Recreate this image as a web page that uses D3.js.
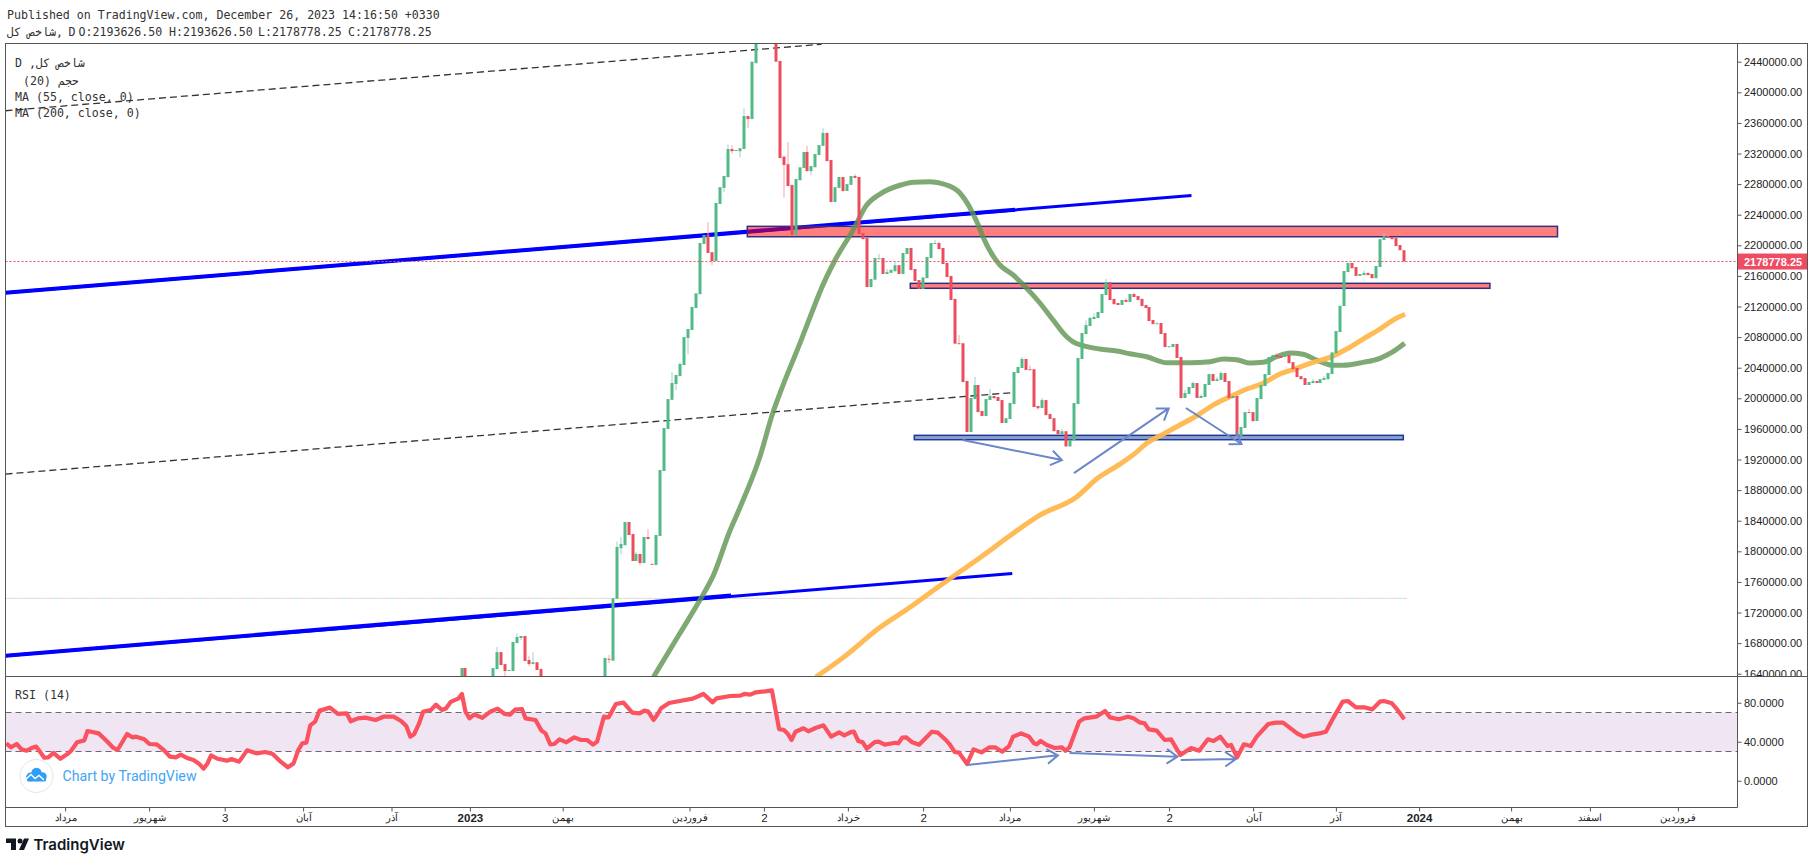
<!DOCTYPE html>
<html>
<head>
<meta charset="utf-8">
<script src="https://cdn.jsdelivr.net/npm/d3@7"></script>
<style>
  html, body { margin: 0; padding: 0; background: #fff; }
  svg { display: block; }
  .mono { font-family: "DejaVu Sans Mono", monospace; font-size: 11.6px; fill: #333; }
  .tick text { fill: #222; font-family: "Liberation Sans", Arial, sans-serif; font-size: 11px; }
  .tick line { stroke: #555; }
</style>
</head>
<body>
<div id="chart"></div>
<script>
// prices are in thousands, time is in chart units (t), daily bars sit at i * BAR_STEP
const BAR_STEP = 0.9942;

const opens = [1630,1647.4,null,null,null,null,null,null,1630,1646,1668.3,1652.6,1644.4,1643.5,1680,1686.7,1689.3,1658,1652.6,1655,1646,
  null,null,null,null,null,null,null,null,null,null,null,null,null,null,null,
  1630,1659.5,1657,1738,1804,1808,1838.3,1822.6,1787.3,1796.5,1784.7,1818.7,1783.7,1782,1820,1905,1960,1998,2018.7,2029,2043.5,2078.8,2089.3,2118,2136,2201.7,2213.5,2191,2179.5,2254,2275,2289,2325.9,2324,2323,2325.9,2369,2365,2438,
  null,null,null,null,
  2480,2441,2316,2306,2279,2213.5,2285,2301,2322,2297,2302,2318,2330,2347,2311.5,2256.6,2275,2289.3,2271,2279,2290.6,2289.3,2216,2209.5,2145.5,2155,2182.5,2183.4,2162.5,2164,2166,2174,2162.5,2188.6,2196.5,2169,2154.6,2142.9,2157,2183.4,2202.5,2203,2196.5,2177,2160,2130,2072,2072,2022.6,1955.9,1999,2017.4,1983.4,1976.8,1997.7,2003,2001.7,1997.7,1967.7,1973,1992.5,2033,2039.6,2051.4,2038,2038,1990,1987.3,1997.7,1979.5,1974,1958.5,1953.3,1957,1937,1945.5,1992.5,2051.4,2084,2094.5,2103.6,2105,2111.5,2135,2152,2130,2124.6,2122,2128.5,2126,2136.3,2133.7,2130,2122,2119.3,2102.3,2097.6,2098.4,2085.3,2067.4,2067,2071,2054,2000.4,2005.7,2013.5,2020,2000.4,2001.7,2017.4,2031.7,2022.6,2024,2033,2022.6,2000.4,2003,1950.7,1961.2,1982,1982,1970.3,1999,2016,2030.4,2052.7,2056.6,2055.3,2054,2056.6,2047.3,2039.6,2029,2026.5,2017.4,2020,2022.6,2020,2024,2025,2031.7,2059,2086.6,2120.6,2165,2177,2171.6,2160,2161,2164,2162.5,2157,2171.6,2206.9,2212,2210.8,2209.5,2200.4,2193.6];

const closes = [1647.4,1630,null,null,null,null,null,null,1647.4,1668.3,1651.4,1643.5,1644.9,1681.4,1688,1689.3,1656.6,1652.6,1655,1644.8,1630,
  null,null,null,null,null,null,null,null,null,null,null,null,null,null,null,
  1660.6,1658.8,1738.6,1805.6,1809.5,1838.3,1821.3,1787.3,1796.5,1784.7,1818.7,1816,1783,1821.3,1906.3,1961.2,1999,2020,2030.5,2044.8,2080,2090.6,2119.4,2137.2,2203,2213.5,2190,2179.5,2255.3,2276,2290.6,2325.9,2323,2324.6,2327,2369,2365,2440,2480,
  null,null,null,null,
  2440,2314,2305,2277.5,2213.5,2286.7,2302,2322,2297,2303.6,2319.3,2331,2347,2310,2256.6,2276,2289.3,2271,2280,2290.6,2288,2214.8,2208,2145.5,2156,2183.4,2183,2162.5,2165,2168,2174,2162.5,2190,2196.5,2167.7,2153.3,2142.9,2158,2184.7,2203,2203,2195,2175.6,2158.6,2128.5,2071.4,2071.5,2021.3,1955.9,2000.4,2017.4,1982,1976.8,1999,2003,2000,1996.5,1967.7,1974,1994,2034.4,2041,2051.4,2037,2037,1988.6,1987,1997.7,1978,1973,1957,1953.3,1957,1937,1946,1993.8,2052.7,2085.3,2095.8,2105,2106.3,2112.8,2136.3,2152,2128.5,2123,2122,2128.5,2126,2136.3,2132.4,2128.5,2120.6,2118,2101,2097,2098,2084,2067,2068,2071,2052.7,2000.4,2007,2014.8,2020,2000.4,2003,2018.7,2031.7,2022.6,2025,2033,2021.3,2000.4,2003,1950.7,1962.5,1982,1980.8,1970.3,2000.4,2017.4,2031.7,2054,2056.6,2054,2052.7,2057.9,2046,2038,2027.8,2025,2017.4,2021.3,2022.6,2020,2025,2026.5,2033,2060,2088,2121,2166.4,2177,2170,2160,2162.5,2164,2161,2157,2172.9,2208,2212,2209.5,2208,2199,2193.6,2178.8];

// [bar index, price] for the wicks that stick out of a body
const upperWicks = [[9,1674.9],[14,1693],[17,1663],[18,1668],[20,1647.4],[37,1664.5],[39,1813],[40,1818.6],[44,1799],[47,1829],[53,2034.4],[55,2047],[62,2230],[67,2332],[68,2331],[71,2379],[82,2335],[87,2330],[91,2353],[99,2293],[105,2189],[107,2169],[109,2178],[119,2207],[120,2205],[125,2082.7],[129,2028],[133,2012],[141,2054],[143,2043],[146,2000.4],[151,1960],[157,2102],[158,2107],[159,2111],[162,2156],[167,2131],[169,2138],[175,2100],[182,2011],[184,2022],[186,2005],[190,2028],[191,2035],[198,1986],[205,2059],[214,2025],[217,2029],[227,2167],[232,2216],[233,2214]];
const lowerWicks = [[11,1630],[15,1684],[17,1650],[37,1654],[40,1796],[45,1782],[54,2010.9],[57,2057.9],[63,2174],[66,2269.7],[68,2320],[70,2315],[72,2353],[81,2262],[88,2292],[96,2270],[145,1985],[199,1969]];

const ma55Times = [48,54.6,59.6,63,67,69.6,74.6,77.8,79.6,84.6,88.8,89.6,93.4,97.9,101.3,104.6,109.6,113.1,117.1,120.9,124.6,129.2,130.5,133,134.6,137.9,140.5,144.6,147.9,151.3,152.9,155.4,159.6,163.8,167.1,171.3,176.3,182.1,187.1,190.5,193.8,197.1,200.4,203.8,207.1,210.4,213.8,217.9,220.4,225.4,229.6,232.9,235.8];
const ma55Values = [1635.7,1692.8,1736.3,1769,1825.6,1857,1923.7,1980.4,2006.5,2071.9,2128.5,2139,2180.8,2220,2252.7,2267,2278.5,2282.5,2283,2279.5,2268.4,2226.5,2209.6,2185.1,2174.3,2161.2,2148.1,2124.6,2102.3,2080.5,2073.9,2068.8,2064.4,2061.8,2058.3,2054.4,2046.5,2046.5,2047.8,2051.4,2050.5,2046.1,2047,2054.4,2059.2,2057.5,2050,2043.1,2043.1,2047,2052.3,2060.9,2071.9];

const ma200Times = [88.6,95.9,104.4,112.6,118.8,124.6,130.9,136.3,144.6,153.6,159,164.6,168.4,171.3,175.4,179.6,183.8,187.9,192.1,196.3,200.4,204.6,208.8,212.9,217.1,221.3,225.4,229.6,232.9,235.9];
const ma200Values = [1635.7,1663,1699.7,1728.5,1752,1773.3,1796.5,1817.4,1847.4,1870.3,1895.4,1914,1928,1941.2,1953,1965.1,1977.2,1991.2,2002,2012.1,2019.6,2031.8,2039.2,2047,2053.6,2064.4,2077.5,2090.6,2102.3,2109.8];

const rsiTimes = [-113.8,-112.6,-111.2,-110,-108.7,-107.5,-106.3,-104.3,-103.3,-102,-100.3,-98.6,-97.6,-96.1,-94.3,-93.5,-90.7,-88.7,-87.2,-86,-83.6,-82.3,-81.3,-79.3,-78,-76.2,-74.4,-72.9,-71.4,-70.2,-68.4,-67,-65.7,-64.5,-63.5,-62.6,-61,-58.6,-57.5,-55.6,-53.6,-51.3,-49,-47.2,-45.2,-43.4,-42,-40.8,-39.8,-38.8,-37.8,-36.6,-35.5,-34.3,-32.9,-30.9,-28.7,-27.7,-25.9,-24,-21.5,-19.5,-17,-15.1,-13.8,-12.8,-11.8,-10.6,-9.6,-8.4,-7.6,-6.4,-4.9,-3.9,-2.7,-0.7,0.1,1,2,3.2,5.2,7.2,9,10.8,12.1,13.4,15.1,16,18.5,20,21,22.2,23.2,24.5,26.2,28.2,29.9,31.4,32.9,33.9,35.6,36.8,38.6,40.5,42.7,44.5,45.7,46.7,48,48.9,49.9,51.9,54.9,57.8,60.5,62.8,63.8,67.2,69.7,70.7,72.2,73.6,75.9,77.6,79.4,80.6,81.6,82.5,83.5,85.5,86.7,88.5,90.5,92.4,94.4,95.7,97.4,98.1,99.2,100.3,101.3,103.3,104.3,105.8,108.5,109.2,110.2,111.2,112.7,114.4,117.6,119.1,121.1,122.1,123.3,124.4,126.4,128,130,132,133.4,135.2,136.9,137.9,139.9,141.9,143.1,143.8,144.8,146.3,148.3,150.1,151,152,154.4,155.7,158.7,160.9,162.1,164.3,166.6,168,169.5,170.8,171.8,173.8,175.8,177.4,179.7,182.4,184.4,186.6,188,189.7,191.5,192.4,193.9,195.6,197.3,198.8,201.7,203.7,205.4,207.6,208.9,210.5,212.5,214.5,216.1,217.9,220.3,221.6,223.6,225.7,227.7,229.6,230.6,232.6,234,235.7];
const rsiValues = [38.4,34.3,37.7,32.2,30.8,33.6,35,23.7,24,28.5,22.6,27.1,30.8,39.4,41.4,51,48.6,40.8,34.3,31.5,48,44.5,45.2,42.5,37.7,37.4,31.5,24.7,24,26.8,23,21.3,17.8,12.4,17.8,26.1,22.6,20.6,22.3,19.6,31.2,28.1,29.5,27.4,19.6,13.8,17.8,31.5,38.4,39,56.8,60.6,71.9,73.2,75,68.5,69.1,61,64,64.7,62.3,65.7,65.7,61.3,56.2,45.2,48,58.9,70.8,71.9,72.6,78,72.6,74,80.8,84.5,89,70.8,64,68.1,64.4,70.8,74,68.5,67.8,72.9,73.6,64,62.3,51.4,48.6,37.4,37.7,42.5,39.4,44.5,41.8,41.8,37,40.1,65.7,65,78.7,80.1,69.8,69.1,71.9,70.9,62.3,67.4,74.3,79.7,82.1,84.2,89,80.4,84.5,86.9,87.3,89,88.3,90.7,91.7,92.7,53,52,48,41.8,50.3,53.8,50.7,54.1,56.8,45.2,49.6,46.6,50,50.3,40.8,39.4,32.9,39.7,40.1,37,39,38.4,44.2,44.5,39.4,37,50.3,49.3,41.8,37,29.5,28.8,17.2,32.2,29.1,34.3,34.3,29.8,35.6,45.2,48.6,45.2,38.4,37.4,40.8,36.7,33.6,34.3,30.8,34.3,60.6,64,65.7,71.5,65,63,65.7,64,59.9,58.9,52.7,51.4,41.8,42.5,26.4,33.6,30.8,42.5,40.8,45.2,35.6,36.7,24,37.4,35.6,45.2,58.2,59.6,59.6,52.7,48.6,45.2,47.3,48.6,50.3,64,81.1,81.8,75.3,75.3,73.2,81.1,81.8,79.4,72.6,63];

const priceTicks = d3.range(1640, 2441, 40);
const rsiTicks = [0, 40, 80];
const timeTicks = [-99.1,-78.1,-59.2,-39.6,-17.5,2.1,25.3,57,75.6,96.6,115.4,137.1,158.1,176.9,197.9,218.6,239.4,262.4,282.1,304.1];
const timeLabels = ['مرداد','شهریور','3','آبان','آذر','2023','بهمن','فروردین','2','خرداد','2','مرداد','شهریور','2','آبان','آذر','2024','بهمن','اسفند','فروردین'];
const yearLabels = ['2023', '2024'];

const lastPrice = 2178.77825;
const rsiBand = [30, 70];
const thinLevel = 1738.5;
const thinLevelEnd = 236.4;

// drawings on the chart, [t1, price1, t2, price2]
const blueLines = [[-114,2138,182.5,2265.2],[-114,1663.5,137.7,1771]];
const blueOverlays = [[-114,2138,138.4,2246.5],[-114,1663.5,67.4,1742.2]];
const dashedLines = [[-114,2375.9,90,2462.8],[-114,1901,137.4,2007.3]];
const redZones = [[71.45,2224.8,274,2211.2],[112.2,2150.3,257.1,2143.8]];
const blueZones = [[113.2,1951.6,235.45,1945.9]];
const priceArrows = [[125.3,1945.5,150.1,1919.3],[153.1,1902.3,176.8,1986.8],[181.1,1987.3,195,1940.3]];
const rsiArrows = [[126.4,16.2,149.1,26.1],[152,28.5,179,24.7],[179.8,21.3,193.6,22.3]];

const WIDTH = 1814;
const HEIGHT = 863;
const LEFT = 5.5;
const RIGHT = 1807.5;
const AXIS_X = 1737.5;
const TOP = 43.5;
const SPLIT = 676.5;
const RSI_BOTTOM = 807.5;
const BOTTOM = 826.5;

const UP = '#53b987';
const DOWN = '#eb4d5c';
const UP_WICK = '#a3cfcf';
const DOWN_WICK = '#f7a1ad';
const FRAME = '#555';

const x = d3.scaleLinear().domain([-115, 320]).range([1.5, 1741.5]);
const y = d3.scaleLinear().domain([1636.36, 2463.8]).range([SPLIT, TOP]);
const yRsi = d3.scaleLinear().domain([-27.4, 106.9]).range([RSI_BOTTOM, SPLIT]);

const svg = d3.select('#chart').append('svg').attr('width', WIDTH).attr('height', HEIGHT);
svg.append('rect').attr('width', WIDTH).attr('height', HEIGHT).attr('fill', '#fff');

const defs = svg.append('defs');
const addClip = (id, x0, y0, w, h) => defs.append('clipPath').attr('id', id)
  .append('rect').attr('x', x0).attr('y', y0).attr('width', w).attr('height', h);
addClip('mainClip', LEFT, TOP, AXIS_X - LEFT, SPLIT - TOP);
addClip('rsiClip', LEFT, SPLIT, AXIS_X - LEFT, RSI_BOTTOM - SPLIT);
addClip('priceAxisClip', 0, TOP, RIGHT - AXIS_X, SPLIT - TOP);

const main = svg.append('g').attr('clip-path', 'url(#mainClip)');
const rsi = svg.append('g').attr('clip-path', 'url(#rsiClip)');

const drawSegments = (group, rows, yScale, width, color, dash) => group.selectAll(null)
  .data(rows)
  .enter()
  .append('line')
  .attr('x1', d => x(d[0]))
  .attr('y1', d => yScale(d[1]))
  .attr('x2', d => x(d[2]))
  .attr('y2', d => yScale(d[3]))
  .attr('stroke', color)
  .attr('stroke-width', width)
  .attr('stroke-dasharray', dash);

const drawZones = (rows, fill, stroke) => main.selectAll(null)
  .data(rows)
  .enter()
  .append('rect')
  .attr('x', d => x(d[0]))
  .attr('y', d => y(d[1]))
  .attr('width', d => x(d[2]) - x(d[0]))
  .attr('height', d => y(d[3]) - y(d[1]))
  .attr('fill', fill)
  .attr('stroke', stroke)
  .attr('stroke-width', 1.5);

const drawArrows = (group, rows, yScale) => group.selectAll(null)
  .data(rows)
  .enter()
  .append('path')
  .attr('fill', 'none')
  .attr('stroke', '#6b87ca')
  .attr('stroke-width', 2)
  .attr('d', d => {
    const [x1, y1, x2, y2] = [x(d[0]), yScale(d[1]), x(d[2]), yScale(d[3])];
    const angle = Math.atan2(y2 - y1, x2 - x1);
    const head = a => `${x2 - 13 * Math.cos(angle + a)},${y2 - 13 * Math.sin(angle + a)}`;
    return `M${x1},${y1}L${x2},${y2}M${head(0.6)}L${x2},${y2}L${head(-0.6)}`;
  });

const drawLine = (group, times, values, yScale, color, width, opacity, curve) => group.append('path')
  .datum(times.map((t, i) => [t, values[i]]))
  .attr('fill', 'none')
  .attr('stroke', color)
  .attr('stroke-width', width)
  .attr('stroke-opacity', opacity)
  .attr('stroke-linejoin', 'round')
  .attr('d', d3.line().curve(curve).x(d => x(d[0])).y(d => yScale(d[1])));

// main pane, bottom to top
[['#c6ead6', 0], ['#f9c9d0', 6]].forEach(([color, offset]) => {
  main.append('line')
    .attr('x1', LEFT).attr('x2', x(thinLevelEnd))
    .attr('y1', y(thinLevel)).attr('y2', y(thinLevel))
    .attr('stroke', color)
    .attr('stroke-dasharray', '6 6')
    .attr('stroke-dashoffset', offset);
});
drawSegments(main, dashedLines, y, 1.3, '#333', '7 4');
drawSegments(main, blueLines, y, 3, '#0000ff');
drawSegments(main, blueOverlays, y, 4, '#0000ff');
drawZones(redZones, 'rgba(255,0,0,0.5)', '#33307f');
drawZones(blueZones, 'rgba(33,66,160,0.5)', '#1b3a96');
drawLine(main, ma55Times, ma55Values, y, '#5f9350', 5, 0.8, d3.curveMonotoneX);
drawLine(main, ma200Times, ma200Values, y, '#ffb74d', 5, 0.95, d3.curveMonotoneX);

const bars = opens
  .map((o, i) => ({ i, o, c: closes[i], t: i * BAR_STEP }))
  .filter(b => b.o !== null);

const wicks = [
  ...upperWicks.map(([i, p]) => ({ i, from: Math.max(opens[i], closes[i]), to: p })),
  ...lowerWicks.map(([i, p]) => ({ i, from: Math.min(opens[i], closes[i]), to: p })),
];

main.selectAll('.wick')
  .data(wicks)
  .enter()
  .append('rect')
  .attr('class', 'wick')
  .attr('x', d => Math.round(x(d.i * BAR_STEP)) - 0.5)
  .attr('y', d => Math.min(y(d.from), y(d.to)))
  .attr('width', 1)
  .attr('height', d => Math.abs(y(d.from) - y(d.to)))
  .attr('fill', d => closes[d.i] >= opens[d.i] ? UP_WICK : DOWN_WICK);

main.selectAll('.bar')
  .data(bars)
  .enter()
  .append('rect')
  .attr('class', 'bar')
  .attr('x', d => Math.round(x(d.t)) - 1.5)
  .attr('y', d => Math.min(y(d.o), y(d.c)))
  .attr('width', 3)
  .attr('height', d => Math.max(1, Math.abs(y(d.o) - y(d.c))))
  .attr('fill', d => d.c >= d.o ? UP : DOWN);

main.append('line')
  .attr('x1', LEFT).attr('x2', AXIS_X)
  .attr('y1', y(lastPrice)).attr('y2', y(lastPrice))
  .attr('stroke', DOWN)
  .attr('stroke-dasharray', '2 2');

drawArrows(main, priceArrows, y);

// rsi pane
rsi.append('rect')
  .attr('x', LEFT).attr('width', AXIS_X - LEFT)
  .attr('y', yRsi(rsiBand[1]))
  .attr('height', yRsi(rsiBand[0]) - yRsi(rsiBand[1]))
  .attr('fill', '#f0e5f2');
rsiBand.forEach(v => {
  rsi.append('line')
    .attr('x1', LEFT).attr('x2', AXIS_X)
    .attr('y1', yRsi(v)).attr('y2', yRsi(v))
    .attr('stroke', '#6d6875')
    .attr('stroke-width', 1.2)
    .attr('stroke-dasharray', '6 4');
});
drawLine(rsi, rsiTimes, rsiValues, yRsi, '#fb525f', 4.2, 1, d3.curveLinear);
drawArrows(rsi, rsiArrows, yRsi);

// axes
const priceAxis = svg.append('g')
  .attr('transform', `translate(${AXIS_X},0)`)
  .attr('clip-path', 'url(#priceAxisClip)')
  .call(d3.axisRight(y).tickValues(priceTicks).tickSize(4).tickPadding(2.5)
    .tickFormat(d => (d * 1000).toFixed(2)));
priceAxis.select('.domain').remove();

const rsiAxis = svg.append('g')
  .attr('transform', `translate(${AXIS_X},0)`)
  .call(d3.axisRight(yRsi).tickValues(rsiTicks).tickSize(4).tickPadding(2.5)
    .tickFormat(d => d.toFixed(4)));
rsiAxis.select('.domain').remove();

const timeAxis = svg.append('g')
  .attr('transform', `translate(0,${RSI_BOTTOM})`)
  .call(d3.axisBottom(x).tickValues(timeTicks).tickSize(4).tickPadding(2)
    .tickFormat((d, i) => timeLabels[i]));
timeAxis.select('.domain').remove();
timeAxis.selectAll('text')
  .style('font-weight', d => yearLabels.includes(timeLabels[timeTicks.indexOf(d)]) ? 'bold' : 'normal')
  .style('font-size', d => /\d/.test(timeLabels[timeTicks.indexOf(d)]) ? '11.5px' : '10px');

// last price label
svg.append('rect')
  .attr('x', AXIS_X).attr('y', y(lastPrice) - 8)
  .attr('width', RIGHT - AXIS_X).attr('height', 16)
  .attr('fill', '#ee4c62');
svg.append('text')
  .attr('x', 1744).attr('y', y(lastPrice) + 4)
  .attr('fill', '#fff')
  .attr('font-family', '"Liberation Sans", Arial, sans-serif')
  .attr('font-size', 11)
  .attr('font-weight', 'bold')
  .text((lastPrice * 1000).toFixed(2));

// frame
svg.append('rect')
  .attr('x', LEFT).attr('y', TOP)
  .attr('width', RIGHT - LEFT).attr('height', BOTTOM - TOP)
  .attr('fill', 'none').attr('stroke', FRAME);
[[LEFT, SPLIT, RIGHT, SPLIT], [LEFT, RSI_BOTTOM, AXIS_X, RSI_BOTTOM], [AXIS_X, TOP, AXIS_X, RSI_BOTTOM]].forEach(s => {
  svg.append('line')
    .attr('x1', s[0]).attr('y1', s[1]).attr('x2', s[2]).attr('y2', s[3])
    .attr('stroke', FRAME);
});

// header and legend
const monoText = (px, py, str) => svg.append('text')
  .attr('class', 'mono').attr('x', px).attr('y', py).text(str);

monoText(7, 19, 'Published on TradingView.com, December 26, 2023 14:16:50 +0330');
monoText(7, 36, 'شاخص کل,');
monoText(68.5, 36, 'D');
monoText(78.5, 36, 'O:2193626.50');
monoText(169, 36, 'H:2193626.50');
monoText(258, 36, 'L:2178778.25');
monoText(348, 36, 'C:2178778.25');
monoText(15, 66.5, 'D ,شاخص کل');
monoText(23, 84.5, '(20) حجم');
monoText(15, 101, 'MA (55, close, 0)');
monoText(15, 117, 'MA (200, close, 0)');
monoText(15, 699, 'RSI (14)');

// tradingview watermark
const mark = svg.append('g');
mark.append('circle')
  .attr('cx', 36.5).attr('cy', 776).attr('r', 16.5)
  .attr('fill', '#fff').attr('stroke', '#e6e6e6');
[[30.5, 777, 4.4], [36.5, 773, 5.2], [42.5, 776.5, 4.2]].forEach(([cx, cy, r]) => {
  mark.append('circle').attr('cx', cx).attr('cy', cy).attr('r', r).attr('fill', '#2e9ff2');
});
mark.append('rect')
  .attr('x', 27).attr('y', 776).attr('width', 19).attr('height', 5.5).attr('rx', 1.5)
  .attr('fill', '#2e9ff2');
mark.append('path')
  .attr('d', 'M26,779 L31,774.5 L35,778.5 L39,775.5 L44,780')
  .attr('fill', 'none').attr('stroke', '#fff').attr('stroke-width', 1.4);
mark.append('text')
  .attr('x', 62.5).attr('y', 781)
  .attr('fill', '#42a5f5')
  .attr('font-family', 'Roboto, sans-serif')
  .attr('font-size', 14.2)
  .text('Chart by TradingView');

// bottom logo
const logo = svg.append('g').attr('fill', '#131722');
logo.append('path').attr('d', 'M6,838.5 H16 V850 H11 V843 H6 Z');
logo.append('circle').attr('cx', 20).attr('cy', 841).attr('r', 2.5);
logo.append('path').attr('d', 'M24,838.5 H29 L24,850 H19 Z');
logo.append('text')
  .attr('x', 33.5).attr('y', 850)
  .attr('font-family', 'Inter, sans-serif')
  .attr('font-size', 15)
  .attr('font-weight', 600)
  .text('TradingView');
</script>
</body>
</html>
